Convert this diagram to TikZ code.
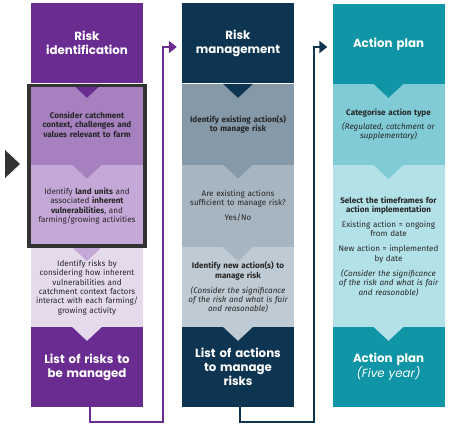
\documentclass[tikz,border=0pt]{standalone}
\usepackage{fontspec}
\setmainfont{Fira Sans}
\newfontfamily\headfont{Poppins}
\usetikzlibrary{arrows.meta,fit}

\definecolor{idpurple}{HTML}{6B2C91}
\definecolor{idtintA}{HTML}{A680BF}
\definecolor{idtintB}{HTML}{C4A9D8}
\definecolor{idtintC}{HTML}{E4DAEC}
\definecolor{mgnavy}{HTML}{0D3451}
\definecolor{mgtintA}{HTML}{8599A8}
\definecolor{mgtintB}{HTML}{A6B5C0}
\definecolor{mgtintC}{HTML}{BFCBD4}
\definecolor{apteal}{HTML}{0F95A5}
\definecolor{aptintA}{HTML}{80CBD6}
\definecolor{aptintB}{HTML}{B3E1E8}
\definecolor{frame}{HTML}{333333}

\begin{document}
\begin{tikzpicture}[x=1pt,y=-1pt,
    band/.style={rectangle,inner sep=0pt,minimum width=112pt,text width=110pt,
      align=center,text=black!85,font=\fontsize{8.1}{9.4}\selectfont},
    strong/.style={band,font=\fontsize{8.1}{9.4}\selectfont\bfseries},
    title/.style={band,text=white,font=\headfont\bfseries\fontsize{11.8}{14}\selectfont},
    flow/.style={line width=2.8pt,line join=miter,-{Triangle[length=8pt,width=12pt]}}]

  \useasboundingbox (0,0) rectangle (450,426);

  % risk identification
  \node[title,fill=idpurple,minimum height=80pt] (idhead) at (87,43) {Risk\\identification};
  \node[strong,fill=idtintA,minimum height=81pt] (idone) at (87,124.5)
    {Consider catchment\\context, challenges and\\values relevant to farm};
  \node[band,fill=idtintB,minimum height=82.5pt] (idtwo) at (87,206)
    {Identify \textbf{land units} and\\associated \textbf{inherent}\\\textbf{vulnerabilities}, and\\farming/growing activities};
  \node[band,fill=idtintC,minimum height=80.5pt] (idthree) at (87,287.5)
    {Identify risks by\\considering how inherent\\vulnerabilities and\\catchment context factors\\interact with each farming/\\growing activity};
  \node[title,fill=idpurple,minimum height=80pt] (idfoot) at (87,367) {List of risks to\\be managed};

  % risk management
  \node[title,fill=mgnavy,minimum height=80pt] (mghead) at (238,43) {Risk\\management};
  \node[strong,fill=mgtintA,minimum height=81pt] (mgone) at (238,124.5)
    {Identify existing action(s)\\to manage risk};
  \node[band,fill=mgtintB,minimum height=82.5pt] (mgtwo) at (238,206)
    {Are existing actions\\sufficient to manage risk?\\[5.6pt]Yes/No};
  \node[band,fill=mgtintC,minimum height=80.5pt] (mgthree) at (238,287.5)
    {{\bfseries Identify new action(s) to\\manage risk}\\[5.6pt]
     {\itshape (Consider the significance\\of the risk and what is fair\\and reasonable)}};
  \node[title,fill=mgnavy,minimum height=80pt] (mgfoot) at (238,367) {List of actions\\to manage\\risks};

  % action plan
  \node[title,fill=apteal,minimum height=80pt] (aphead) at (388.5,44) {Action plan};
  \node[band,fill=aptintA,minimum height=81pt] (apone) at (388.5,124.5)
    {\textbf{Categorise action type}\\[4.6pt]
     {\itshape (Regulated, catchment or\\supplementary)}};
  \node[band,fill=aptintB,minimum height=163pt] (aptwo) at (388.5,246.5)
    {{\bfseries Select the timeframes for\\action implementation}\\[5.6pt]
     Existing action = ongoing\\from date\\[5.6pt]
     New action = implemented\\by date\\[5.6pt]
     {\itshape (Consider the significance\\of the risk and what is fair\\and reasonable)}};
  \node[title,fill=apteal,minimum height=80pt] (apfoot) at (388.5,367)
    {Action plan\\{\mdseries\itshape (Five year)}};

  % notches
  \foreach \cellname/\cellcol in {idone/idpurple,idtwo/idtintA,idthree/idtintB,idfoot/idtintC,
      mgone/mgnavy,mgtwo/mgtintA,mgthree/mgtintB,mgfoot/mgtintC,
      apone/apteal,aptwo/aptintA,apfoot/aptintB}
    \fill[\cellcol] ([xshift=-15pt]\cellname.north) -- ([xshift=15pt]\cellname.north)
      -- ([yshift=-14pt]\cellname.north) -- cycle;

  \node[draw=frame,line width=3.5pt,fit=(idone)(idtwo),inner xsep=2pt,inner ysep=-1.5pt] (focus) {};
  \fill[frame] (5,150) -- (5,178) -- (20,164) -- cycle;

  % flow between columns
  \coordinate (low1) at (163,422);
  \coordinate (low2) at (314,422);
  \draw[flow,idpurple] ([xshift=3pt]idfoot.south) |- (low1) |- ([xshift=-5pt,yshift=-4pt]mghead.west);
  \draw[flow,mgnavy] ([xshift=2pt]mgfoot.south) |- (low2) |- ([xshift=-5pt,yshift=-3pt]aphead.west);

\end{tikzpicture}
\end{document}
